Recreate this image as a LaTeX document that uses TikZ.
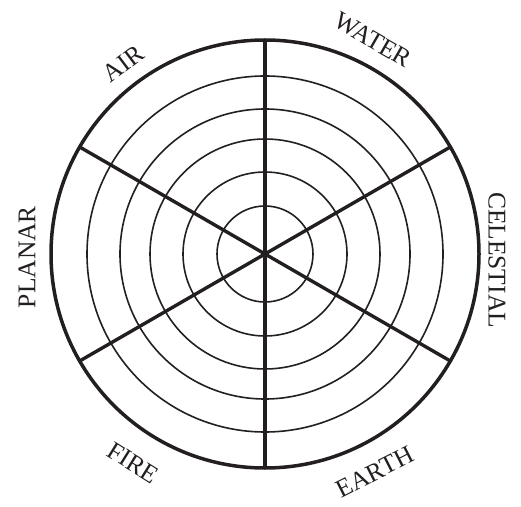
\documentclass[tikz,border=0pt]{standalone}
\usepackage{fontspec}
\setmainfont{Liberation Serif}
\usetikzlibrary{calc}
\definecolor{ink}{RGB}{35,31,32}
\begin{document}
\begin{tikzpicture}[x=1pt,y=1pt,
  thick ring/.style={draw=ink,line width=3.5pt},
  thin ring/.style={draw=ink,line width=1.6pt},
  spoke/.style={draw=ink,line width=3.4pt},
  lbl/.style={text=ink,inner sep=0pt,font=\fontsize{25.5}{30}\selectfont}]
\useasboundingbox (0,0) rectangle (521,506);
\coordinate (c) at (265,252);
\foreach \r in {48,82,115,145,178}{
  \draw[thin ring] (c) circle[radius=\r];
}
\draw[thick ring] (c) circle[radius=214];
\foreach \a in {90,30,-30,-90,-150,150}{
  \draw[spoke] (c) -- ++(\a:214);
}
\node[lbl,rotate=37] (air) at ($(c)+(-142,190)$) {AIR};
\node[lbl,rotate=-30] (water) at ($(c)+(108,214)$) {WATER};
\node[lbl,rotate=-90] (celestial) at ($(c)+(232,-6)$) {CELESTIAL};
\node[lbl,rotate=27] (earth) at ($(c)+(110,-218)$) {EARTH};
\node[lbl,rotate=-32] (fire) at ($(c)+(-132,-209)$) {FIRE};
\node[lbl,rotate=90] (planar) at ($(c)+(-238,-3)$) {PLANAR};
\end{tikzpicture}
\end{document}
